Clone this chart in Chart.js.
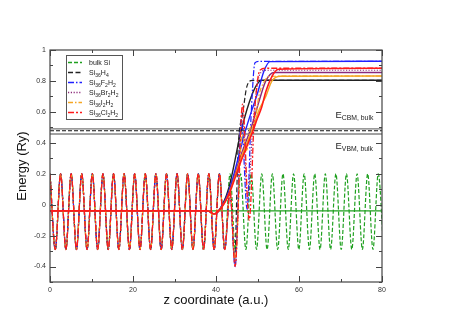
<!DOCTYPE html>
<html>
<head>
<meta charset="utf-8">
<script src="https://cdn.jsdelivr.net/npm/chart.js@4.4.1/dist/chart.umd.min.js"></script>
<style>
html, body { margin: 0; padding: 0; background: #fff; }
</style>
</head>
<body>
<canvas id="potChart" width="457" height="323"></canvas>
<script>
// bulk Si planar average: extrema positions (a.u.) and values (Ry)
var zBulk = [0, 1.28, 2.55, 3.83, 5.10, 6.38, 7.65, 8.93, 10.21, 11.48,
    12.76, 14.03, 15.31, 16.59, 17.86, 19.14, 20.41, 21.69, 22.96, 24.24,
    25.52, 26.79, 28.07, 29.34, 30.62, 31.90, 33.17, 34.45, 35.72, 37.00,
    38.27, 39.55, 40.83, 42.10, 43.38, 44.65, 45.93, 47.20, 48.48, 49.76,
    51.03, 52.31, 53.58, 54.86, 56.14, 57.41, 58.69, 59.96, 61.24, 62.51,
    63.79, 65.07, 66.34, 67.62, 68.89, 70.17, 71.44, 72.72, 74.00, 75.27,
    76.55, 77.82, 79.10, 80.38];
var eBulk = [0.2, -0.29, 0.2, -0.29, 0.2, -0.29, 0.2, -0.29, 0.2, -0.29,
    0.2, -0.29, 0.2, -0.29, 0.2, -0.29, 0.2, -0.29, 0.2, -0.29,
    0.2, -0.29, 0.2, -0.29, 0.2, -0.29, 0.2, -0.29, 0.2, -0.29,
    0.2, -0.29, 0.2, -0.29, 0.2, -0.29, 0.2, -0.29, 0.2, -0.29,
    0.2, -0.29, 0.2, -0.29, 0.2, -0.29, 0.2, -0.29, 0.2, -0.29,
    0.2, -0.29, 0.2, -0.29, 0.2, -0.29, 0.2, -0.29, 0.2, -0.29,
    0.2, -0.29, 0.2, -0.29];
var zBulkAvg = [0, 80];
var eBulkAvg = [-0.04, -0.04];

// slabs: same oscillation as bulk up to z = 40.83, then their own tails
var nSlabOsc = 33;
var zTailH4 = [42.10, 43.38, 44.5, 45.3, 46.5, 47.5, 48.8, 80];
var eTailH4 = [-0.29, 0.10, -0.35, 0.35, 0.60, 0.77, 0.804, 0.804];
var zTailF = [42.10, 43.38, 44.6, 46.1, 47.5, 48.5, 49.4, 50.5, 80];
var eTailF = [-0.29, 0.08, -0.40, 0.55, -0.03, 0.60, 0.918, 0.927, 0.927];
var zTailBr = [42.10, 43.38, 44.6, 46.3, 47.6, 49.0, 50.5, 52, 80];
var eTailBr = [-0.29, 0.08, -0.39, 0.60, 0.05, 0.55, 0.84, 0.869, 0.869];
var zTailI = [42.10, 43.38, 44.6, 46.3, 47.4, 48.3, 49.3, 50.3, 51.5, 53, 80];
var eTailI = [-0.29, 0.10, -0.36, 0.45, 0.35, 0.50, 0.52, 0.70, 0.79, 0.83, 0.832];
var zTailCl = [42.10, 43.38, 44.6, 46.4, 48.0, 49.3, 50.6, 52, 80];
var eTailCl = [-0.29, 0.08, -0.40, 0.65, -0.10, 0.60, 0.87, 0.882, 0.882];

// macroscopic averages
var zAvgH4 = [0, 38, 39.5, 40.5, 43, 46, 48, 49.5, 51, 80];
var eAvgH4 = [-0.04, -0.04, -0.06, -0.045, 0.10, 0.47, 0.66, 0.76, 0.804, 0.804];
var zAvgF = [0, 38, 39.5, 40.5, 43, 47, 48.5, 50, 51.5, 53, 80];
var eAvgF = [-0.04, -0.04, -0.06, -0.045, 0.08, 0.47, 0.60, 0.72, 0.86, 0.925, 0.927];
var zAvgBr = [0, 38, 39.5, 40.5, 43, 46, 48.5, 50.5, 52, 54, 80];
var eAvgBr = [-0.04, -0.04, -0.06, -0.045, 0.07, 0.32, 0.50, 0.68, 0.80, 0.855, 0.855];
var zAvgI = [0, 38, 39.5, 40.5, 43, 46, 48.5, 50.5, 52, 53.5, 55.5, 80];
var eAvgI = [-0.04, -0.04, -0.06, -0.045, 0.06, 0.30, 0.47, 0.62, 0.70, 0.80, 0.83, 0.832];
var zAvgCl = [0, 38, 39.5, 40.5, 43, 46, 48.8, 50, 51, 52, 53.5, 55, 80];
var eAvgCl = [-0.04, -0.04, -0.06, -0.045, 0.06, 0.28, 0.47, 0.56, 0.63, 0.73, 0.83, 0.876, 0.882];

// bulk band edges
var eCBM = [0.49, 0.478];
var eVBM = [0.457];

var seriesLabels = ['bulk Si', 'Si_{36}H_{4}', 'Si_{36}F_{2}H_{2}', 'Si_{36}Br_{2}H_{2}', 'Si_{36}I_{2}H_{2}', 'Si_{36}Cl_{2}H_{2}'];
var seriesColors = ['#1fa01f', '#222222', '#2020ff', '#8b2a7a', '#f5a623', '#ff1a1a'];
var seriesDash = [[4, 2], [5, 2.5], [6, 2, 1.5, 2], [1.2, 1.6], [5, 2, 1.5, 2], [6, 2, 2, 2]];

var xMajor = [0, 20, 40, 60, 80];
var xMinor = [10, 30, 50, 70];
var yMajor = [-0.4, -0.2, 0, 0.2, 0.4, 0.6, 0.8, 1];
var yMinor = [-0.5, -0.3, -0.1, 0.1, 0.3, 0.5, 0.7, 0.9];

function pts(zs, es) {
    return zs.map(function (z, i) { return { x: z, y: es[i] }; });
}
function slab(zt, et) {
    return pts(zBulk.slice(0, nSlabOsc).concat(zt), eBulk.slice(0, nSlabOsc).concat(et));
}

function lineSet(data, color, dash, width) {
    return {
        data: data, borderColor: color, borderDash: dash, borderWidth: width,
        pointRadius: 0, fill: false, cubicInterpolationMode: 'monotone'
    };
}

var c = seriesColors, d = seriesDash;
var datasets = [
    lineSet(pts(zAvgCl, eAvgCl), c[5], [], 1.6),
    lineSet(slab(zTailCl, eTailCl), c[5], d[5], 1.3),
    lineSet(pts(zAvgI, eAvgI), c[4], [], 1.4),
    lineSet(slab(zTailI, eTailI), c[4], d[4], 1.2),
    lineSet(pts(zAvgBr, eAvgBr), c[3], [], 1.4),
    lineSet(slab(zTailBr, eTailBr), c[3], d[3], 1.2),
    lineSet(pts(zAvgF, eAvgF), c[2], [], 1.4),
    lineSet(slab(zTailF, eTailF), c[2], d[2], 1.2),
    lineSet(pts(zAvgH4, eAvgH4), c[1], [], 1.4),
    lineSet(slab(zTailH4, eTailH4), c[1], d[1], 1.2),
    lineSet(pts(zBulkAvg, eBulkAvg), c[0], [], 1.3),
    lineSet(pts(zBulk, eBulk), c[0], d[0], 1.2),
    lineSet(pts([0, 80], [eCBM[0], eCBM[0]]), '#777', [], 1.2),
    lineSet(pts([0, 80], [eCBM[1], eCBM[1]]), '#111', [4, 2], 1.2),
    lineSet(pts([0, 80], [eVBM[0], eVBM[0]]), '#444', [], 1.2)
];

// text with _{...} subscripts
function drawRich(ctx, str, x, y, size) {
    var parts = str.split(/(_\{[^}]*\})/);
    parts.forEach(function (p) {
        if (!p) return;
        if (p.charAt(0) === '_') {
            var t = p.slice(2, -1);
            ctx.font = (size * 0.72) + 'px "Liberation Sans", Arial, sans-serif';
            ctx.fillText(t, x, y + size * 0.3);
            x += ctx.measureText(t).width;
        } else {
            ctx.font = size + 'px "Liberation Sans", Arial, sans-serif';
            ctx.fillText(p, x, y);
            x += ctx.measureText(p).width;
        }
    });
}

var framePlugin = {
    id: 'frame',
    afterDraw: function (chart) {
        var ctx = chart.ctx, a = chart.chartArea;
        var xs = chart.scales.x, ys = chart.scales.y;
        ctx.save();
        ctx.strokeStyle = '#444';
        ctx.lineWidth = 1.2;
        ctx.strokeRect(a.left, a.top, a.right - a.left, a.bottom - a.top);
        ctx.lineWidth = 1;
        ctx.beginPath();
        function xt(v, len) {
            var px = Math.round(xs.getPixelForValue(v)) + 0.5;
            ctx.moveTo(px, a.bottom); ctx.lineTo(px, a.bottom - len);
            ctx.moveTo(px, a.top); ctx.lineTo(px, a.top + len);
        }
        function yt(v, len) {
            var py = Math.round(ys.getPixelForValue(v)) + 0.5;
            ctx.moveTo(a.left, py); ctx.lineTo(a.left + len, py);
            ctx.moveTo(a.right, py); ctx.lineTo(a.right - len, py);
        }
        xMajor.forEach(function (v) { xt(v, 6); });
        xMinor.forEach(function (v) { xt(v, 3); });
        yMajor.forEach(function (v) { yt(v, 6); });
        yMinor.forEach(function (v) { yt(v, 3); });
        ctx.stroke();

        // legend
        var lx = 66.5, ly = 55.5;
        ctx.fillStyle = '#fff';
        ctx.fillRect(lx, ly, 56, 64);
        ctx.strokeStyle = '#555';
        ctx.strokeRect(lx, ly, 56, 64);
        ctx.textBaseline = 'alphabetic';
        seriesLabels.forEach(function (lab, i) {
            var ry = 62.5 + i * 10;
            ctx.strokeStyle = seriesColors[i];
            ctx.lineWidth = 1.3;
            ctx.setLineDash(seriesDash[i]);
            ctx.beginPath();
            ctx.moveTo(68, ry); ctx.lineTo(82, ry);
            ctx.stroke();
            ctx.setLineDash([]);
            ctx.fillStyle = '#222';
            drawRich(ctx, lab, 89, ry + 2.5, 7);
        });

        // band edge labels
        ctx.fillStyle = '#222';
        drawRich(ctx, 'E_{CBM, bulk}', 335.5, 117.5, 9.5);
        drawRich(ctx, 'E_{VBM, bulk}', 335.5, 148.5, 9.5);
        ctx.restore();
    }
};

var fontFam = '"Liberation Sans", Arial, sans-serif';
new Chart(document.getElementById('potChart'), {
    type: 'line',
    data: { datasets: datasets },
    options: {
        responsive: false,
        animation: false,
        events: [],
        layout: { padding: { left: 0, top: 50, right: 75, bottom: 0 } },
        plugins: { legend: { display: false }, tooltip: { enabled: false } },
        scales: {
            x: {
                type: 'linear', min: 0, max: 80,
                grid: { display: false, drawTicks: false },
                border: { display: false },
                ticks: { stepSize: 20, padding: 4, maxRotation: 0, color: '#333', font: { size: 7, family: fontFam } },
                title: { display: true, text: 'z coordinate (a.u.)', color: '#111', font: { size: 13, family: fontFam }, padding: { top: 0, bottom: 15 } },
                afterFit: function (s) { s.height = 41; }
            },
            y: {
                type: 'linear', min: -0.5, max: 1,
                grid: { display: false, drawTicks: false },
                border: { display: false },
                ticks: {
                    stepSize: 0.1, padding: 4, color: '#333', font: { size: 7, family: fontFam },
                    callback: function (v) {
                        var k = Math.round(v * 10);
                        if (k % 2 !== 0) return '';
                        return String(k / 10);
                    }
                },
                title: { display: true, text: 'Energy (Ry)', color: '#111', font: { size: 13, family: fontFam }, padding: { top: 15, bottom: 0 } },
                afterFit: function (s) { s.width = 50; }
            }
        }
    },
    plugins: [framePlugin]
});
</script>
</body>
</html>
